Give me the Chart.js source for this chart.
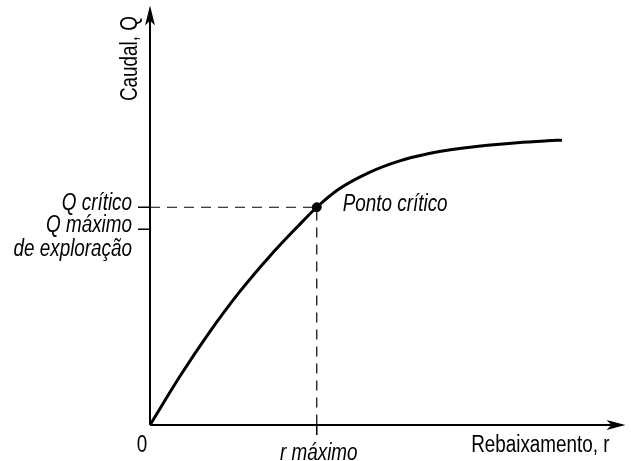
<!DOCTYPE html>
<html lang="pt">
<head>
  <meta charset="UTF-8" />
  <title>Caudal vs Rebaixamento</title>
  <script src="https://cdn.jsdelivr.net/npm/chart.js"></script>
  <style>
    * { margin: 0; padding: 0; box-sizing: border-box; }
    body { background: #fff; width: 631px; height: 461px; overflow: hidden; }
    #wrap { width: 631px; height: 461px; position: relative; }
  </style>
</head>
<body>
  <div id="wrap"><canvas id="chart"></canvas></div>
  <script>
    // curve values (rebaixamento r -> caudal Q)
    const rValues = [0, 30, 60, 90, 120, 150, 168, 190, 220, 250, 280, 310, 340, 370, 400, 415];
    const qValues = [0, 48.6, 93, 133, 168.3, 200, 218, 236, 252.5, 264, 271.5, 276.5, 280, 282.7, 284.5, 285.2];

    // critical point and the tick positions
    const rMax = 168;
    const qCritico = 218;
    const qMaxExpl = 196;
    const xAxisMax = 479;
    const yAxisMax = 420;

    const yTickLabels = [
      { value: qCritico, lines: ['Q crítico'] },
      { value: qMaxExpl, lines: ['Q máximo', 'de exploração'] }
    ];

    // narrow sans like the original; fall back to a squeezed Liberation Sans
    const probe = document.createElement('canvas').getContext('2d');
    probe.font = '22px "Liberation Sans Narrow", monospace';
    const wNarrow = probe.measureText('Rebaixamento, r').width;
    probe.font = '22px monospace';
    const hasNarrow = Math.abs(wNarrow - probe.measureText('Rebaixamento, r').width) > 1;
    const FAMILY = hasNarrow ? '"Liberation Sans Narrow"' : '"Liberation Sans"';
    const SQUEEZE = hasNarrow ? 1 : 0.82;

    function txt(ctx, s, x, y, align, italic) {
      ctx.save();
      ctx.font = (italic ? 'italic ' : '') + '23px ' + FAMILY;
      ctx.textAlign = align;
      ctx.textBaseline = 'alphabetic';
      ctx.translate(x, y);
      ctx.scale(SQUEEZE, 1);
      ctx.fillText(s, 0, 0);
      ctx.restore();
    }

    const axesPlugin = {
      id: 'axesPlugin',
      afterDraw(chart) {
        const ctx = chart.ctx;
        const xs = chart.scales.x, ys = chart.scales.y;
        const x0 = xs.getPixelForValue(0), y0 = ys.getPixelForValue(0);
        const xEnd = xs.getPixelForValue(xAxisMax), yEnd = ys.getPixelForValue(yAxisMax);

        ctx.save();
        ctx.strokeStyle = '#000';
        ctx.fillStyle = '#000';
        ctx.lineWidth = 2;

        // axes
        ctx.beginPath();
        ctx.moveTo(x0, y0); ctx.lineTo(xEnd - 10, y0);
        ctx.moveTo(x0, y0); ctx.lineTo(x0, yEnd + 10);
        ctx.stroke();

        // arrow heads
        ctx.beginPath();
        ctx.moveTo(xEnd, y0);
        ctx.lineTo(xEnd - 19, y0 - 5);
        ctx.lineTo(xEnd - 14, y0);
        ctx.lineTo(xEnd - 19, y0 + 5);
        ctx.closePath();
        ctx.fill();
        ctx.beginPath();
        ctx.moveTo(x0, yEnd);
        ctx.lineTo(x0 - 5, yEnd + 20);
        ctx.lineTo(x0, yEnd + 15);
        ctx.lineTo(x0 + 5, yEnd + 20);
        ctx.closePath();
        ctx.fill();

        // y ticks + labels
        ctx.lineWidth = 1.5;
        yTickLabels.forEach(t => {
          const py = ys.getPixelForValue(t.value);
          ctx.beginPath();
          ctx.moveTo(x0 - 12, py); ctx.lineTo(x0, py);
          ctx.stroke();
          t.lines.forEach((ln, i) => {
            txt(ctx, ln, x0 - 18, py + 3 + i * 24, 'right', true);
          });
        });

        // x tick + labels
        const pxr = xs.getPixelForValue(rMax);
        ctx.beginPath();
        ctx.moveTo(pxr, y0); ctx.lineTo(pxr, y0 + 10);
        ctx.stroke();
        txt(ctx, '0', x0 - 8, y0 + 27, 'center', false);
        txt(ctx, 'r máximo', pxr + 2, y0 + 35, 'center', true);

        // axis titles
        txt(ctx, 'Rebaixamento, r', xEnd - 16, y0 + 27, 'right', false);
        ctx.save();
        ctx.translate(x0 - 13, 101);
        ctx.rotate(-Math.PI / 2);
        txt(ctx, 'Caudal, Q', 0, 0, 'left', false);
        ctx.restore();

        // point label
        txt(ctx, 'Ponto crítico', pxr + 26, ys.getPixelForValue(qCritico) + 4, 'left', true);
        ctx.restore();
      }
    };

    new Chart(document.getElementById('chart'), {
      type: 'scatter',
      data: {
        datasets: [
          {
            label: 'Q(r)',
            data: rValues.map((r, i) => ({ x: r, y: qValues[i] })),
            showLine: true,
            borderColor: '#000',
            borderWidth: 3,
            pointRadius: 0,
            cubicInterpolationMode: 'monotone',
            fill: false
          },
          {
            label: 'guias',
            data: [{ x: 0, y: qCritico }, { x: rMax, y: qCritico }, { x: rMax, y: 0 }],
            showLine: true,
            borderColor: '#000',
            borderWidth: 1.2,
            borderDash: [10, 7],
            pointRadius: 0,
            fill: false
          },
          {
            label: 'Ponto crítico',
            data: [{ x: rMax, y: qCritico }],
            pointRadius: 4.5,
            backgroundColor: '#000',
            borderColor: '#000'
          }
        ]
      },
      options: {
        responsive: true,
        maintainAspectRatio: false,
        animation: false,
        layout: { padding: { left: 150, right: 2, top: 5, bottom: 36 } },
        plugins: { legend: { display: false }, tooltip: { enabled: false } },
        scales: {
          x: { type: 'linear', min: 0, max: xAxisMax, display: false },
          y: { type: 'linear', min: 0, max: yAxisMax, display: false }
        }
      },
      plugins: [axesPlugin]
    });
  </script>
</body>
</html>
